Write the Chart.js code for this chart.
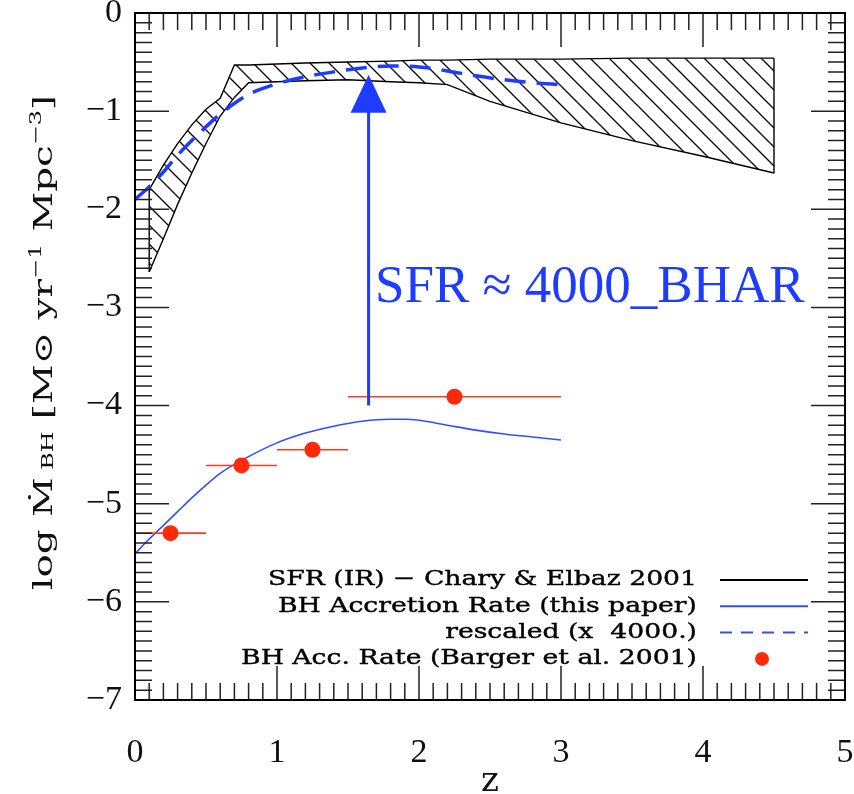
<!doctype html>
<html>
<head>
<meta charset="utf-8">
<title>SFR and BH accretion rate vs z</title>
<script src="https://cdn.jsdelivr.net/npm/chart.js@4.4.0/dist/chart.umd.min.js"></script>
<style>
  html, body { margin: 0; padding: 0; background: #fff; }
  #kast { width: 854px; height: 794px; }
</style>
</head>
<body>
<div id="kast"><canvas id="joonis"></canvas></div>
<script>
// SFR band, Chary & Elbaz 2001 (shared z grid, lower and upper edge)
const sfrZ    = [0.1, 0.2, 0.3, 0.4, 0.5, 0.6, 0.7, 0.8, 1.0, 1.2, 1.5, 1.8, 2.0, 2.2, 2.5, 3.0, 3.5, 4.0, 4.5];
const sfrHigh = [-1.80, -1.55, -1.33, -1.14, -0.98, -0.87, -0.53, -0.53, -0.52, -0.51, -0.50, -0.49, -0.48, -0.48, -0.47, -0.47, -0.46, -0.46, -0.46];
const sfrLow  = [-2.64, -2.30, -1.95, -1.63, -1.33, -1.05, -0.86, -0.71, -0.70, -0.69, -0.68, -0.70, -0.71, -0.73, -0.90, -1.12, -1.30, -1.46, -1.63];

// BH accretion rate (this paper)
const bharZ = [0, 0.1, 0.2, 0.3, 0.4, 0.5, 0.6, 0.8, 1.0, 1.2, 1.4, 1.6, 1.8, 1.9, 2.0, 2.2, 2.4, 2.6, 2.8, 3.0];
const bhar  = [-5.51, -5.36, -5.22, -5.08, -4.94, -4.81, -4.69, -4.52, -4.38, -4.28, -4.21, -4.16, -4.14, -4.14, -4.15, -4.20, -4.25, -4.29, -4.32, -4.35];

// rescaled (x 4000.)
const rescZ = [0, 0.1, 0.2, 0.3, 0.4, 0.5, 0.6, 0.8, 1.0, 1.2, 1.4, 1.6, 1.8, 2.0, 2.2, 2.4, 2.6, 2.8, 3.0];
const resc  = [-1.90, -1.77, -1.62, -1.45, -1.30, -1.16, -1.03, -0.83, -0.72, -0.65, -0.60, -0.56, -0.54, -0.55, -0.59, -0.64, -0.68, -0.71, -0.73];

// Barger et al. 2001 points with z bins
const bargerZ  = [0.25, 0.75, 1.25, 2.25];
const bargerLo = [0.0, 0.5, 1.0, 1.5];
const bargerHi = [0.5, 1.0, 1.5, 3.0];
const bargerY  = [-5.30, -4.61, -4.45, -3.91];

// axes
const xTicks = [0, 1, 2, 3, 4, 5];
const yTicks = [0, -1, -2, -3, -4, -5, -6, -7];
const minorStep = 0.1;

// arrow and note
const arrowZ = 1.645, arrowFrom = -4.0, arrowTo = -0.63;
const noteText = "SFR \u2248 4000_BHAR", noteZ = 1.69, noteY = -2.945;

const legendRows = [
  { text: "SFR (IR) \u2212 Chary & Elbaz 2001", kind: "line", color: "#000", dash: [] },
  { text: "BH Accretion Rate (this paper)", kind: "line", color: "#3050ff", dash: [] },
  { text: "rescaled (x  4000.)", kind: "line", color: "#3050ff", dash: [12, 9] },
  { text: "BH Acc. Rate (Barger et al. 2001)", kind: "dot", color: "#ff2a0a", dash: [] }
];

// y title pieces: [text, size, raise]
const yTitle = [
  ["log ", 26, 0], ["\u1E40", 26, 0], [" BH", 16, -1], [" [M\u2299 yr", 26, 0], ["\u22121", 16, 11],
  [" Mpc", 26, 0], ["\u22123", 16, 11], ["]", 26, 0]
];

const blue = "#1e3cff";
const red = "#ff2a0a";
const serif = "'DejaVu Serif'";

function pts(xs, ys) { return xs.map((v, i) => ({ x: v, y: ys[i] })); }

function viirutus() {
  const s = 19;
  const c = document.createElement("canvas");
  c.width = s; c.height = s;
  const g = c.getContext("2d");
  g.strokeStyle = "#000";
  g.lineWidth = 1.3;
  g.beginPath();
  g.moveTo(-2, -2); g.lineTo(s + 2, s + 2);
  g.moveTo(-2, s - 2); g.lineTo(2, s + 2);
  g.moveTo(s - 2, -2); g.lineTo(s + 2, 2);
  g.stroke();
  return g.createPattern(c, "repeat");
}

const errData = [];
bargerY.forEach((v, i) => {
  errData.push({ x: bargerLo[i], y: v }, { x: bargerHi[i], y: v }, { x: bargerHi[i], y: null });
});

function nullPad(s) { s.paddingLeft = 0; s.paddingRight = 0; s.paddingTop = 0; s.paddingBottom = 0; }

const raamPlugin = {
  id: "raam",
  afterDraw(chart) {
    const { ctx, chartArea: a, scales: { x, y } } = chart;
    ctx.save();
    ctx.strokeStyle = "#222";
    ctx.lineWidth = 1.5;
    ctx.beginPath();
    const nx = Math.round((x.max - x.min) / minorStep);
    for (let k = 0; k <= nx; k++) {
      const p = x.getPixelForValue(x.min + k * minorStep);
      const L = (k % 10 === 0) ? 34 : 17;
      ctx.moveTo(p, a.bottom); ctx.lineTo(p, a.bottom - L);
      ctx.moveTo(p, a.top); ctx.lineTo(p, a.top + L);
    }
    const ny = Math.round((y.max - y.min) / minorStep);
    for (let k = 0; k <= ny; k++) {
      const p = y.getPixelForValue(y.min + k * minorStep);
      const L = (k % 10 === 0) ? 34 : 17;
      ctx.moveTo(a.left, p); ctx.lineTo(a.left + L, p);
      ctx.moveTo(a.right, p); ctx.lineTo(a.right - L, p);
    }
    ctx.stroke();
    ctx.strokeStyle = "#000";
    ctx.lineWidth = 2;
    ctx.strokeRect(a.left, a.top, a.right - a.left, a.bottom - a.top);

    // arrow head
    const ax = x.getPixelForValue(arrowZ);
    const ay = y.getPixelForValue(arrowTo);
    ctx.fillStyle = blue;
    ctx.beginPath();
    ctx.moveTo(ax, ay);
    ctx.lineTo(ax - 18, ay + 38);
    ctx.lineTo(ax + 18, ay + 38);
    ctx.closePath();
    ctx.fill();

    // note
    ctx.font = "53px 'Liberation Serif'";
    ctx.textAlign = "left";
    ctx.textBaseline = "alphabetic";
    ctx.fillText(noteText, x.getPixelForValue(noteZ), y.getPixelForValue(noteY));

    // legend (wide, stretched serif like the plot package font)
    ctx.font = "21px " + serif;
    const k = 429 / ctx.measureText(legendRows[0].text).width;
    legendRows.forEach((r, i) => {
      const cy = a.bottom - 120 + i * 26.3;
      ctx.save();
      ctx.fillStyle = "#000";
      ctx.strokeStyle = "#000";
      ctx.lineWidth = 0.4;
      ctx.textAlign = "right";
      ctx.textBaseline = "middle";
      ctx.translate(a.right - 148, cy);
      ctx.scale(k, 1);
      ctx.fillText(r.text, 0, 0);
      ctx.strokeText(r.text, 0, 0);
      ctx.restore();
      if (r.kind === "line") {
        ctx.strokeStyle = r.color;
        ctx.lineWidth = 2;
        ctx.setLineDash(r.dash);
        ctx.beginPath();
        ctx.moveTo(a.right - 125, cy); ctx.lineTo(a.right - 37, cy);
        ctx.stroke();
        ctx.setLineDash([]);
      } else {
        ctx.fillStyle = r.color;
        ctx.beginPath();
        ctx.arc(a.right - 83, cy, 7, 0, Math.PI * 2);
        ctx.fill();
      }
    });

    // y axis title with sub/superscripts
    let w = 0;
    yTitle.forEach(p => { ctx.font = p[1] + "px " + serif; w += ctx.measureText(p[0]).width; });
    const ks = 495 / w;
    ctx.translate(a.left - 83, (a.top + a.bottom) / 2 - 14);
    ctx.rotate(-Math.PI / 2);
    ctx.scale(ks, 1);
    ctx.fillStyle = "#111";
    ctx.textAlign = "left";
    ctx.textBaseline = "alphabetic";
    let u = -w / 2;
    yTitle.forEach(p => {
      ctx.font = p[1] + "px " + serif;
      ctx.fillText(p[0], u, -p[2]);
      u += ctx.measureText(p[0]).width;
    });
    ctx.restore();
  }
};

new Chart(document.getElementById("joonis"), {
  type: "line",
  data: {
    datasets: [
      { label: "arrow", data: [{ x: arrowZ, y: arrowFrom }, { x: arrowZ, y: arrowTo - 0.3 }],
        borderColor: blue, borderWidth: 3, pointRadius: 0, fill: false },
      { label: "BH Acc. Rate (Barger et al. 2001)", data: pts(bargerZ, bargerY), showLine: false,
        pointRadius: 8, pointBackgroundColor: red, pointBorderWidth: 0, pointBorderColor: red },
      { label: "bins", data: errData, borderColor: "#ff3b20", borderWidth: 1.6, pointRadius: 0,
        spanGaps: false, fill: false },
      { label: "rescaled (x 4000.)", data: pts(rescZ, resc), borderColor: blue, borderWidth: 3.5,
        borderDash: [21, 11], pointRadius: 0, fill: false, cubicInterpolationMode: "monotone" },
      { label: "BH Accretion Rate (this paper)", data: pts(bharZ, bhar), borderColor: "#3050ff",
        borderWidth: 1.6, pointRadius: 0, fill: false, cubicInterpolationMode: "monotone" },
      { label: "edge left", data: [{ x: sfrZ[0], y: sfrLow[0] }, { x: sfrZ[0], y: sfrHigh[0] }],
        borderColor: "#000", borderWidth: 1.4, pointRadius: 0, fill: false },
      { label: "edge right", data: [{ x: sfrZ[sfrZ.length - 1], y: sfrLow[sfrLow.length - 1] },
        { x: sfrZ[sfrZ.length - 1], y: sfrHigh[sfrHigh.length - 1] }],
        borderColor: "#000", borderWidth: 1.4, pointRadius: 0, fill: false },
      { label: "SFR high", data: pts(sfrZ, sfrHigh), borderColor: "#000", borderWidth: 1.4,
        pointRadius: 0, fill: { target: 8 }, backgroundColor: viirutus() },
      { label: "SFR low", data: pts(sfrZ, sfrLow), borderColor: "#000", borderWidth: 1.4,
        pointRadius: 0, fill: false }
    ]
  },
  options: {
    responsive: true,
    maintainAspectRatio: false,
    animation: false,
    layout: { padding: { top: 13, right: 9, left: 0, bottom: 0 } },
    plugins: { legend: { display: false }, tooltip: { enabled: false } },
    scales: {
      x: {
        type: "linear", min: 0, max: 5,
        afterFit: s => { s.height = 94; nullPad(s); },
        afterBuildTicks: s => { s.ticks = xTicks.map(v => ({ value: v })); },
        grid: { display: false, drawTicks: false },
        border: { display: false },
        ticks: { padding: 33, color: "#111", font: { family: "Liberation Serif", size: 34 } },
        title: { display: true, text: "z", color: "#111", padding: { top: 0, bottom: -9 },
                 font: { family: "DejaVu Serif", size: 34 } }
      },
      y: {
        type: "linear", min: -7, max: 0,
        afterFit: s => { s.width = 135; nullPad(s); },
        afterBuildTicks: s => { s.ticks = yTicks.map(v => ({ value: v })); },
        grid: { display: false, drawTicks: false },
        border: { display: false },
        ticks: { padding: 13, color: "#111", font: { family: "Liberation Serif", size: 34 },
                 callback: v => v < 0 ? "\u2212" + Math.abs(v) : String(v) },
        title: { display: false }
      }
    }
  },
  plugins: [raamPlugin]
});
</script>
</body>
</html>
